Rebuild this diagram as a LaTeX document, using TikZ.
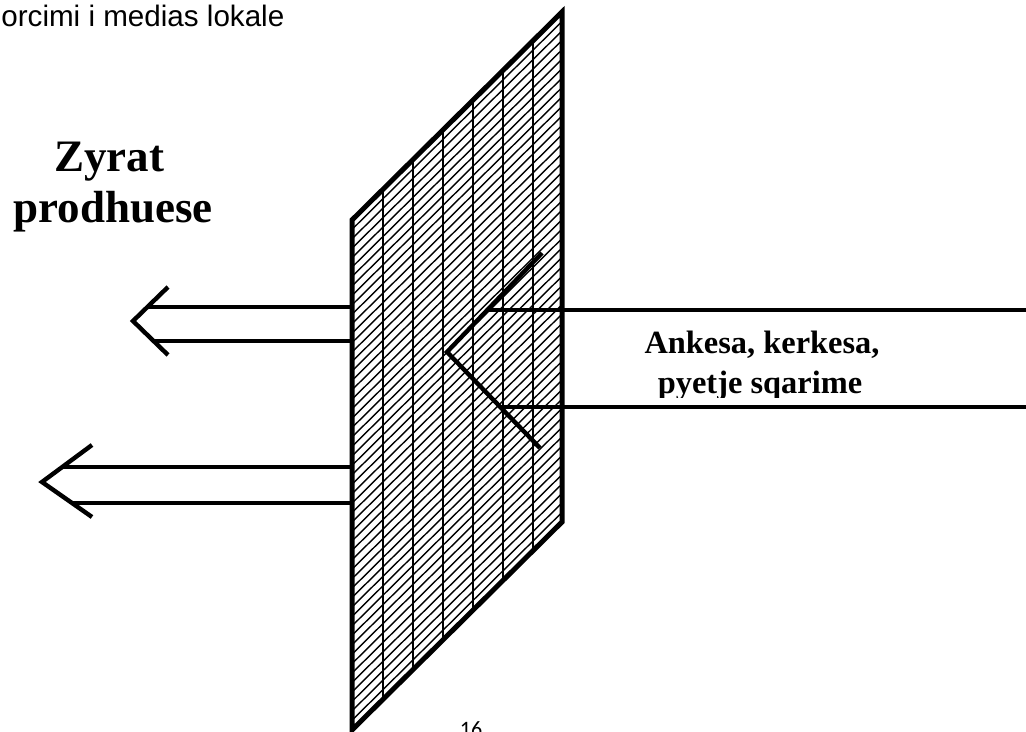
\documentclass[tikz,border=0pt]{standalone}
\usepackage{fontspec}
\setmainfont{Liberation Serif}
\newfontfamily\arialfont{Liberation Sans}
\newfontfamily\pagenumfont{Carlito}

\tikzset{
	frame/.style={line width=2.5pt, line join=miter},
	grid line/.style={line width=1pt},
	hatch/.style={line width=0.7pt},
	arrow line/.style={line width=2pt},
	head/.style={line width=2.2pt, line join=miter},
	title/.style={font=\fontsize{22.5}{22.5}\selectfont\bfseries, inner sep=0pt},
	flow label/.style={font=\fontsize{16.2}{16.2}\selectfont\bfseries, inner sep=0pt},
	sans label/.style={font=\arialfont\fontsize{14.8}{14.8}\selectfont, inner sep=0pt},
	page num/.style={font=\pagenumfont\fontsize{11}{11}\selectfont, inner sep=0pt}
}

\begin{document}
\begin{tikzpicture}[x=0.5pt, y=-0.5pt]

	\useasboundingbox (0,0) rectangle (1026,732);

	\coordinate (pTL) at (352,220);
	\coordinate (pTR) at (562,12);
	\coordinate (pBR) at (562,522);
	\coordinate (pBL) at (352,730);

	\begin{scope}
		\clip (pTL) -- (pTR) -- (pBR) -- (pBL) -- cycle;
		\foreach \n in {1,...,53}
			\draw[hatch] (352,{220+9.44*\n}) -- ++(210,-208);
		\foreach \x in {383,413,443,473,503,533}
			\draw[grid line] (\x,0) -- (\x,740);
	\end{scope}

	\draw[frame] (pTL) -- (pTR) -- (pBR) -- (pBL) -- cycle;

	\coordinate (vTop) at (542,253);
	\coordinate (vTip) at (447,352);
	\coordinate (vBot) at (540,448);
	\coordinate (rA) at (487,310);
	\coordinate (rB) at (1030,310);
	\coordinate (rC) at (500,407);
	\coordinate (rD) at (1030,407);

	\coordinate (aTip) at (133,321);
	\coordinate (aUp) at (168,287);
	\coordinate (aDn) at (168,355);
	\coordinate (a1) at (148,307);
	\coordinate (a2) at (352,307);
	\coordinate (a3) at (154,341);
	\coordinate (a4) at (352,341);

	\coordinate (bTip) at (42,482);
	\coordinate (bUp) at (92,445);
	\coordinate (bDn) at (92,517);
	\coordinate (b1) at (62,467);
	\coordinate (b2) at (352,467);
	\coordinate (b3) at (72,503);
	\coordinate (b4) at (352,503);

	\path[arrow line]
	(a1) edge (a2)
	(a3) edge (a4)
	(b1) edge (b2)
	(b3) edge (b4)
	(rA) edge (rB)
	(rC) edge (rD);

	\draw[head] (aUp) -- (aTip) -- (aDn);
	\draw[head] (bUp) -- (bTip) -- (bDn);
	\draw[head] (vTop) -- (vTip) -- (vBot);

	\node[sans label, anchor=base west] (place) at (1,27) {orcimi i medias lokale};
	\node[title, anchor=base] (zyrat) at (109,172) {Zyrat};
	\node[title, anchor=base] (prodh) at (113,223) {prodhuese};
	\node[flow label, anchor=base] (ank1) at (762,353) {Ankesa, kerkesa,};
	\begin{scope}
		\clip (600,0) rectangle (1000,397);
		\node[flow label, anchor=base] (ank2) at (760,393) {pyetje sqarime};
	\end{scope}
	\node[page num, anchor=base] (pnum) at (471,736) {16};

\end{tikzpicture}
\end{document}
